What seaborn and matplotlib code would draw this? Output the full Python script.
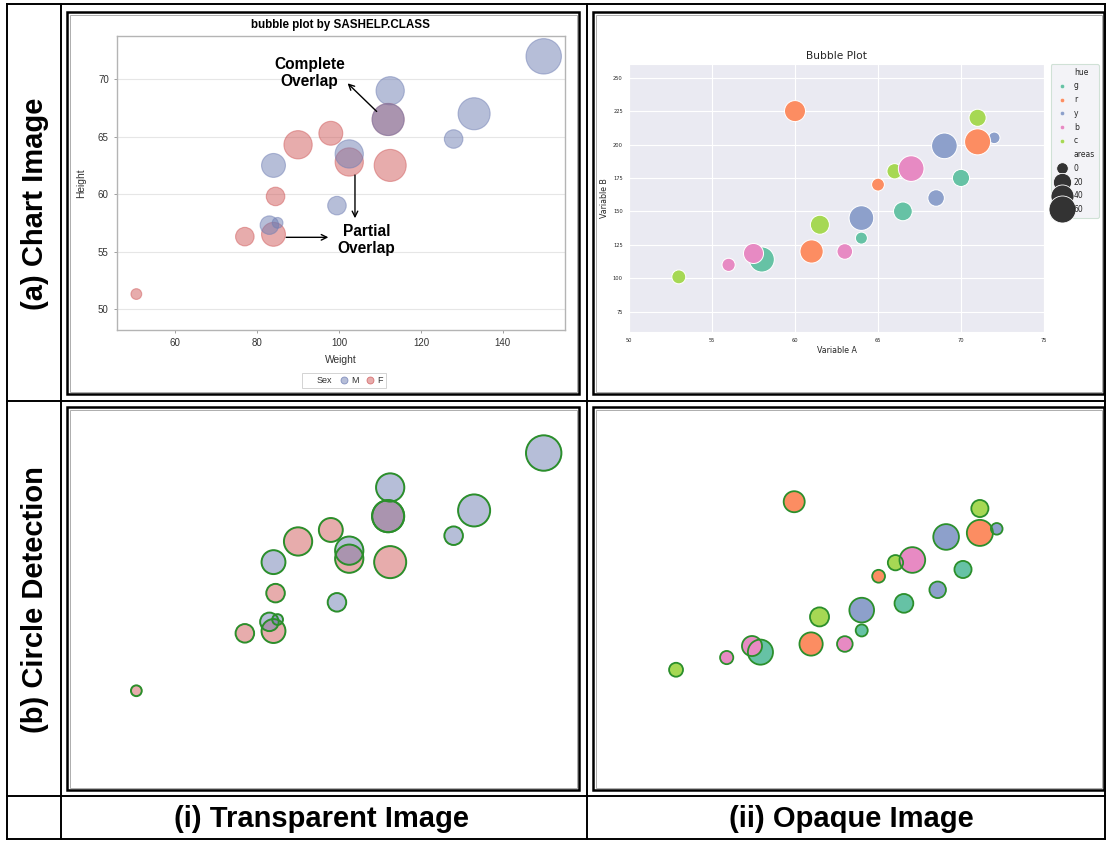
import matplotlib
matplotlib.use("Agg")
import matplotlib.pyplot as plt
import seaborn as sns
import pandas as pd
from matplotlib.lines import Line2D
from matplotlib.patches import Rectangle
from matplotlib.colors import to_rgba

# ---------------- data: (i) SASHELP.CLASS bubble plot ----------------
sas_weight = [112.5, 84.0, 98.0, 102.5, 102.5, 83.0, 84.5, 112.5, 84.0, 99.5,
              50.5, 90.0, 77.0, 112.0, 150.0, 128.0, 133.0, 85.0, 112.0]
sas_height = [69.0, 56.5, 65.3, 62.8, 63.5, 57.3, 59.8, 62.5, 62.5, 59.0,
              51.3, 64.3, 56.3, 66.5, 72.0, 64.8, 67.0, 57.5, 66.5]
sas_sex = ['M', 'F', 'F', 'F', 'M', 'M', 'F', 'F', 'M', 'M',
           'F', 'F', 'F', 'F', 'M', 'M', 'M', 'M', 'M']
sas_age = [14, 13, 13, 14, 14, 12, 12, 15, 13, 12,
           11, 14, 12, 15, 16, 12, 15, 11, 15]
sas_sex_levels = ['M', 'F']
sas_xticks = [60, 80, 100, 120, 140]
sas_yticks = [50, 55, 60, 65, 70]

# ---------------- data: (ii) seaborn bubble plot ----------------
var_a = [53, 56, 58, 57.5, 60, 61, 61.5, 63, 64, 64,
         65, 66, 67, 66.5, 68.5, 69, 70, 71, 72, 71]
var_b = [101, 110, 114, 118.5, 225, 120, 140, 120, 130, 145,
         170, 180, 182, 150, 160, 199, 175, 220, 205, 202]
hue_lbl = ['c', 'b', 'g', 'b', 'r', 'r', 'c', 'b', 'g', 'y',
           'r', 'c', 'b', 'g', 'y', 'y', 'g', 'c', 'y', 'r']
areas = [6, 4, 50, 27, 31, 41, 23, 11, 1, 48,
         3, 10, 53, 22, 14, 53, 16, 16, 0, 55]
hue_levels = ['g', 'r', 'y', 'b', 'c']
area_legend = [0, 20, 40, 60]
b_xticks = [50, 55, 60, 65, 70, 75]
b_yticks = [75, 100, 125, 150, 175, 200, 225, 250]

row_labels = ['(a) Chart Image', '(b) Circle Detection']
col_labels = ['(i) Transparent Image', '(ii) Opaque Image']

# ---------------- styling ----------------
W, H = 1106, 841
SAS_PAL = {'M': '#6F7EB3', 'F': '#D05B5B'}
SAS_SIZES = (60, 650)
B_SIZES = (70, 378)
B_NORM = (0, 60)
DET_GREEN = '#2b8f2b'
SAS_FONT = 'Liberation Sans'

df_sas = pd.DataFrame({'Weight': sas_weight, 'Height': sas_height,
                       'Sex': sas_sex, 'Age': sas_age})
df_b = pd.DataFrame({'Variable A': var_a, 'Variable B': var_b,
                     'hue': hue_lbl, 'areas': areas})
pal_b = dict(zip(hue_levels, sns.color_palette('Set2', len(hue_levels))))


def rect(x0, y0, x1, y1):
    return [x0 / W, 1 - y1 / H, (x1 - x0) / W, (y1 - y0) / H]


fig = plt.figure(figsize=(W / 100, H / 100), dpi=100)
fig.patch.set_facecolor('white')

# ---------------- table grid & frames ----------------
bg = fig.add_axes([0, 0, 1, 1])
bg.set_xlim(0, W)
bg.set_ylim(H, 0)
bg.axis('off')
bg.set_zorder(-5)
for x in (7, 61, 587, 1105):
    bg.add_line(Line2D([x, x], [4, 839], color='black', lw=1.4))
for y in (4, 401, 796, 839):
    bg.add_line(Line2D([7, 1105], [y, y], color='black', lw=1.4))
for (x0, y0, x1, y1) in [(67, 12, 579, 394), (593, 12, 1104, 394),
                         (67, 407, 579, 790), (593, 407, 1104, 790)]:
    bg.add_patch(Rectangle((x0, y0), x1 - x0, y1 - y0, fill=False,
                           ec='black', lw=1.8))
    bg.add_patch(Rectangle((x0 + 2.5, y0 + 2.5), x1 - x0 - 5, y1 - y0 - 5,
                           fill=False, ec='#a0a0a0', lw=0.6))
for lbl, yc in zip(row_labels, (204, 600)):
    bg.text(35, yc, lbl, rotation=90, ha='center', va='center', fontsize=21,
            fontweight='bold', family=SAS_FONT)
for lbl, xc in zip(col_labels, (321, 851)):
    bg.text(xc, 819, lbl, ha='center', va='center', fontsize=21,
            fontweight='bold', family=SAS_FONT)


def sas_bubbles(ax):
    sns.scatterplot(data=df_sas, x='Weight', y='Height', hue='Sex',
                    hue_order=sas_sex_levels, palette=SAS_PAL, size='Age',
                    sizes=SAS_SIZES, alpha=0.5, edgecolor='face',
                    linewidth=0.8, legend=False, ax=ax)


def set_sas_limits(ax):
    ax.set_xlim(45.7, 155.2)
    ax.set_ylim(48.17, 73.77)


# ---------------- (a)(i) SAS chart ----------------
ax_a = fig.add_axes(rect(116.7, 36, 565, 330))
ax_a.set_facecolor('white')
sas_bubbles(ax_a)
set_sas_limits(ax_a)
ax_a.set_xticks(sas_xticks)
ax_a.set_yticks(sas_yticks)
ax_a.grid(axis='y', color='#e6e6e6', lw=0.8)
ax_a.grid(axis='x', visible=False)
ax_a.set_axisbelow(True)
for sp in ax_a.spines.values():
    sp.set_color('#b4b4b4')
    sp.set_linewidth(1.0)
ax_a.tick_params(length=2.2, width=0.7, color='#a0a0a0', labelcolor='#333333',
                 labelsize=7, pad=3.5)
for t in ax_a.get_xticklabels() + ax_a.get_yticklabels():
    t.set_fontfamily(SAS_FONT)
ax_a.set_xlabel('Weight', fontsize=7.4, family=SAS_FONT, color='#333333',
                labelpad=5)
ax_a.set_ylabel('Height', fontsize=7.4, family=SAS_FONT, color='#333333',
                labelpad=8.5)
ax_a.set_title('bubble plot by SASHELP.CLASS', fontsize=8.4, fontweight='bold',
               family=SAS_FONT, pad=5.6)

arrow_kw = dict(arrowstyle='->', color='black', lw=1.0, shrinkA=0, shrinkB=0,
                mutation_scale=10)
ax_a.annotate('', xy=(102.1, 69.65), xytext=(109.2, 67.2), arrowprops=arrow_kw)
ax_a.annotate('', xy=(103.9, 57.9), xytext=(103.9, 61.66), arrowprops=arrow_kw)
ax_a.annotate('', xy=(97.4, 56.24), xytext=(87.1, 56.24), arrowprops=arrow_kw)
ax_a.text(92.8, 70.52, 'Complete\nOverlap', ha='center', va='center',
          fontsize=11.2, fontweight='bold', family=SAS_FONT, linespacing=1.15)
ax_a.text(106.75, 56.0, 'Partial\nOverlap', ha='center', va='center',
          fontsize=11.2, fontweight='bold', family=SAS_FONT, linespacing=1.15)

sex_handles = [Line2D([], [], linestyle='none')]
sex_labels = ['Sex']
for s in sas_sex_levels:
    sex_handles.append(Line2D([], [], linestyle='none', marker='o', markersize=5,
                              markerfacecolor=to_rgba(SAS_PAL[s], 0.5),
                              markeredgecolor=to_rgba(SAS_PAL[s], 0.8),
                              markeredgewidth=0.6))
    sex_labels.append(s)
leg_a = ax_a.legend(sex_handles, sex_labels, ncol=3, loc='center',
                    bbox_to_anchor=(0.507, -0.172), frameon=True, fancybox=False,
                    edgecolor='#c8c8c8', handlelength=1.0,
                    handletextpad=0.3, columnspacing=0.8, borderpad=0.3,
                    prop={'family': SAS_FONT, 'size': 6.5})
leg_a.get_frame().set_linewidth(0.7)
for t in leg_a.get_texts():
    t.set_color('#333333')

# ---------------- (a)(ii) seaborn chart ----------------
with sns.axes_style('darkgrid'):
    ax_b = fig.add_axes(rect(629, 64.3, 1044, 331.7))
sns.scatterplot(data=df_b, x='Variable A', y='Variable B', hue='hue',
                hue_order=hue_levels, palette=pal_b, size='areas',
                sizes=B_SIZES, size_norm=B_NORM, legend=False, ax=ax_b)
ax_b.set_xlim(b_xticks[0], b_xticks[-1])
ax_b.set_ylim(60, 260)
ax_b.set_xticks(b_xticks)
ax_b.set_yticks(b_yticks)
ax_b.tick_params(labelsize=3.7, pad=4.5, length=0, labelcolor='#262626')
ax_b.set_xlabel('Variable A', fontsize=5.7, labelpad=2.5, color='#262626')
ax_b.set_ylabel('Variable B', fontsize=5.7, labelpad=2.5, color='#262626')
ax_b.set_title('Bubble Plot', fontsize=7.7, pad=3.8, color='#262626')

b_handles = [Line2D([], [], linestyle='none')]
b_labels = ['hue']
for h in hue_levels:
    b_handles.append(Line2D([], [], linestyle='none', marker='o', markersize=3,
                            markerfacecolor=pal_b[h], markeredgecolor='white',
                            markeredgewidth=0.3))
    b_labels.append(h)
b_handles.append(Line2D([], [], linestyle='none'))
b_labels.append('areas')
for a in area_legend:
    s = B_SIZES[0] + (a - B_NORM[0]) / (B_NORM[1] - B_NORM[0]) * (B_SIZES[1] - B_SIZES[0])
    b_handles.append(Line2D([], [], linestyle='none', marker='o',
                            markersize=s ** 0.5, markerfacecolor='#333333',
                            markeredgecolor='white', markeredgewidth=0.6))
    b_labels.append(str(a))
leg_b = ax_b.legend(b_handles, b_labels, loc='upper left',
                    bbox_to_anchor=(1.016, 1.0), borderaxespad=0,
                    fontsize=5.5, labelspacing=0.62, handlelength=2.0,
                    handletextpad=0.6, borderpad=0.45, frameon=True)
leg_b.get_frame().set_edgecolor('#c6dccd')
leg_b.get_frame().set_facecolor('#f0f0f5')
leg_b.get_frame().set_linewidth(0.8)
for t in leg_b.get_texts():
    t.set_color('#262626')

# ---------------- (b)(i) circle detection on transparent chart ----------------
ax_c = fig.add_axes(rect(116.7, 432.7, 565, 726.7))
sas_bubbles(ax_c)
sns.scatterplot(data=df_sas, x='Weight', y='Height', size='Age',
                sizes=SAS_SIZES, color=DET_GREEN, legend=False, ax=ax_c)
det_c = ax_c.collections[-1]
det_c.set_facecolor('none')
det_c.set_edgecolor(DET_GREEN)
det_c.set_linewidth(1.4)
set_sas_limits(ax_c)
ax_c.axis('off')

# ---------------- (b)(ii) circle detection on opaque chart ----------------
ax_d = fig.add_axes(rect(625.4, 454.3, 1047.4, 725.3))
sns.scatterplot(data=df_b, x='Variable A', y='Variable B', hue='hue',
                hue_order=hue_levels, palette=pal_b, size='areas',
                sizes=B_SIZES, size_norm=B_NORM, linewidth=0, legend=False,
                ax=ax_d)
sns.scatterplot(data=df_b, x='Variable A', y='Variable B', size='areas',
                sizes=B_SIZES, size_norm=B_NORM, color=DET_GREEN,
                legend=False, ax=ax_d)
det_d = ax_d.collections[-1]
det_d.set_facecolor('none')
det_d.set_edgecolor(DET_GREEN)
det_d.set_linewidth(1.3)
ax_d.set_xlim(b_xticks[0], b_xticks[-1])
ax_d.set_ylim(60, 260)
ax_d.axis('off')

fig.savefig('out.png', dpi=100, facecolor='white')
